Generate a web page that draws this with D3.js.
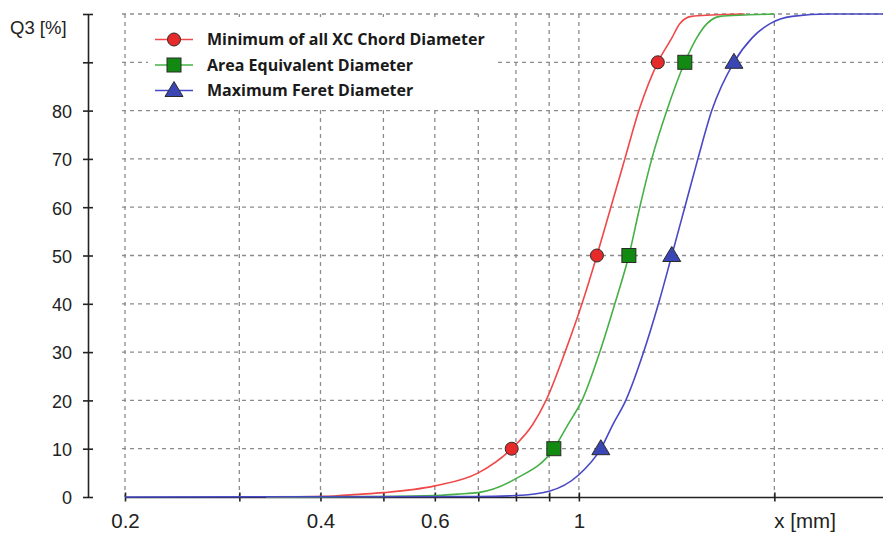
<!DOCTYPE html>
<html>
<head>
<meta charset="utf-8">
<script src="https://cdn.jsdelivr.net/npm/d3@7"></script>
<style>
  body { margin: 0; background: #fff; }
  text { font-family: "Liberation Sans", Arial, sans-serif; fill: #222; }
  .legend text { font-family: "Open Sans", Lato, sans-serif; font-weight: bold; font-size: 16px; fill: #1a1a1a; }
</style>
</head>
<body>
<div id="chart"></div>
<script>
// series: particle size x [mm] vs cumulative Q3 [%]
var seriesNames = ["Minimum of all XC Chord Diameter", "Area Equivalent Diameter", "Maximum Feret Diameter"];

var minChordX = [0.33, 0.42, 0.45, 0.5, 0.6, 0.7, 0.788, 0.849, 0.89, 0.952, 1.011, 1.066, 1.12, 1.177, 1.237, 1.323, 1.39, 1.43, 1.49, 1.6, 1.8];
var minChordQ = [0, 0.2, 0.5, 0.9, 2.3, 5, 10, 15, 20, 30, 40, 50, 60, 70, 80, 90, 95, 98, 99.5, 99.8, 100];

var areaEqX = [0.33, 0.5, 0.6, 0.65, 0.7, 0.8, 0.915, 0.962, 1.011, 1.077, 1.136, 1.194, 1.241, 1.295, 1.366, 1.456, 1.518, 1.575, 1.65, 1.8, 2.0];
var areaEqQ = [0, 0.1, 0.3, 0.6, 0.9, 3.8, 10, 15, 20, 30, 40, 50, 60, 70, 80, 90, 95, 98, 99.5, 99.8, 100];

var maxFeretX = [0.2, 0.7, 0.8, 0.9, 1.0, 1.081, 1.128, 1.181, 1.258, 1.326, 1.39, 1.456, 1.525, 1.602, 1.733, 1.847, 1.97, 2.13, 2.43, 2.94];
var maxFeretQ = [0, 0.1, 0.3, 1.2, 4.6, 10, 15, 20, 30, 40, 50, 60, 70, 80, 90, 95, 98, 99.5, 100, 100];

// x10 / x50 / x90 markers
var markerQ = [10, 50, 90];
var minChordMarks = [0.788, 1.066, 1.323];
var areaEqMarks = [0.915, 1.194, 1.456];
var maxFeretMarks = [1.081, 1.39, 1.733];

var xTicks = [0.2, 0.3, 0.4, 0.5, 0.6, 0.7, 0.8, 0.9, 1, 2];
var xTickLabels = {0.2: "0.2", 0.4: "0.4", 0.6: "0.6", 1: "1"};
var yTicks = [0, 10, 20, 30, 40, 50, 60, 70, 80, 90, 100];

var svgWidth = 883;
var svgHeight = 533;

var svg = d3.select("#chart")
  .append("svg")
  .attr("width", svgWidth)
  .attr("height", svgHeight);

var x = d3.scaleLog().domain([0.2, 2.94]).range([125, 883]);
var y = d3.scaleLinear().domain([0, 100]).range([497, 14]);

// dashed grid
var grid = svg.append("g")
  .attr("stroke", "#8c8c8c")
  .attr("stroke-width", 1.3)
  .attr("stroke-dasharray", "4,4");

grid.selectAll(".hgrid")
  .data(yTicks.filter(d => d > 0))
  .enter()
  .append("line")
  .attr("x1", 122)
  .attr("x2", svgWidth)
  .attr("y1", d => y(d))
  .attr("y2", d => y(d));

grid.selectAll(".vgrid")
  .data(xTicks)
  .enter()
  .append("line")
  .attr("x1", d => x(d))
  .attr("x2", d => x(d))
  .attr("y1", y(100))
  .attr("y2", y(0));

// y axis, ticks crossing the line
var yAxis = svg.append("g")
  .attr("transform", "translate(88,0)")
  .call(d3.axisLeft(y).tickValues(yTicks).tickSizeOuter(0).tickPadding(10)
    .tickFormat(d => d <= 80 ? d : ""));
yAxis.select(".domain").attr("stroke", "#222").attr("stroke-width", 1.6);
yAxis.selectAll(".tick line").attr("x1", -5).attr("x2", 5).attr("stroke", "#222").attr("stroke-width", 1.6);
yAxis.selectAll(".tick text").attr("font-size", 18).attr("dy", "0.38em").attr("fill", "#222")
  .style("font-family", "'Liberation Sans', Arial, sans-serif");

svg.append("text")
  .attr("x", 10)
  .attr("y", 34)
  .attr("font-size", 18.5)
  .text("Q3 [%]");

// x axis
var xAxis = svg.append("g")
  .attr("transform", `translate(0, ${y(0)})`)
  .call(d3.axisBottom(x).tickValues(xTicks).tickSizeOuter(0)
    .tickFormat(d => xTickLabels[d] || ""));
xAxis.select(".domain").attr("stroke", "#222").attr("stroke-width", 1.6);
xAxis.selectAll(".tick line").attr("y1", -4.5).attr("y2", 4.5).attr("stroke", "#222").attr("stroke-width", 1.6);
xAxis.selectAll(".tick text").attr("font-size", 20.5).attr("y", 31).attr("dy", 0).attr("fill", "#222")
  .style("font-family", "'Liberation Sans', Arial, sans-serif");

svg.append("text")
  .attr("x", x(2))
  .attr("y", 528)
  .attr("font-size", 20.5)
  .text("x [mm]");

// curves
var series = [
  {xs: minChordX, qs: minChordQ, marks: minChordMarks, line: "#f04848", fill: "#e62a2a", shape: "circle"},
  {xs: areaEqX, qs: areaEqQ, marks: areaEqMarks, line: "#45b045", fill: "#128a12", shape: "square"},
  {xs: maxFeretX, qs: maxFeretQ, marks: maxFeretMarks, line: "#4848c6", fill: "#3a46b4", shape: "triangle"}
];

var line = d3.line()
  .x(d => x(d[0]))
  .y(d => y(d[1]))
  .curve(d3.curveMonotoneX);

series.forEach(function(s) {
  svg.append("path")
    .datum(d3.zip(s.xs, s.qs))
    .attr("fill", "none")
    .attr("stroke", s.line)
    .attr("stroke-width", 1.6)
    .attr("d", line);
});

function drawMarker(g, shape, cx, cy, fill) {
  var m;
  if (shape === "circle") {
    m = g.append("circle").attr("cx", cx).attr("cy", cy).attr("r", 6.5);
  } else if (shape === "square") {
    m = g.append("rect").attr("x", cx - 7).attr("y", cy - 7).attr("width", 14).attr("height", 14);
  } else {
    m = g.append("path").attr("d", `M${cx - 9},${cy + 6} L${cx},${cy - 9} L${cx + 9},${cy + 6} Z`);
  }
  m.attr("fill", fill).attr("stroke", "#2a2a2a").attr("stroke-width", 1);
}

var markers = svg.append("g");
series.forEach(function(s) {
  s.marks.forEach(function(v, i) {
    drawMarker(markers, s.shape, x(v), y(markerQ[i]), s.fill);
  });
});

// legend
var legend = svg.append("g").attr("class", "legend");
legend.append("rect")
  .attr("x", 148)
  .attr("y", 17)
  .attr("width", 350)
  .attr("height", 89)
  .attr("fill", "#fff");

series.forEach(function(s, i) {
  var ly = 39.5 + i * 25.5;
  legend.append("line")
    .attr("x1", 155).attr("x2", 193)
    .attr("y1", ly).attr("y2", ly)
    .attr("stroke", s.line)
    .attr("stroke-width", 1.6);
  drawMarker(legend, s.shape, 174, ly, s.fill);
  legend.append("text")
    .attr("x", 207)
    .attr("y", ly + 5.5)
    .text(seriesNames[i]);
});
</script>
</body>
</html>
